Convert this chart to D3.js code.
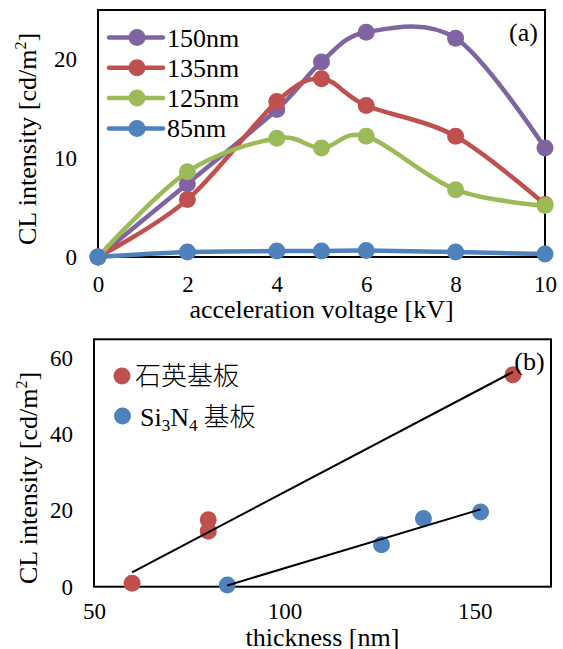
<!DOCTYPE html>
<html><head><meta charset="utf-8">
<script src="https://cdn.jsdelivr.net/npm/d3@7"></script>
<style>
html,body{margin:0;padding:0;background:#fff;}
svg{display:block;font-family:"Liberation Serif","Times New Roman",serif;}
</style></head>
<body>
<svg id="c" width="563" height="649"></svg>
<script>
// ---- Data: panel (a) ----
const voltages = [0, 2, 4, 5, 6, 8, 10];
const seriesNames = ["150nm", "135nm", "125nm", "85nm"];
const values150 = [0, 7.4, 14.9, 19.7, 22.7, 22.1, 11.0];
const values135 = [0, 5.8, 15.7, 18.0, 15.3, 12.2, 5.3];
const values125 = [0, 8.6, 12.0, 11.0, 12.2, 6.8, 5.2];
const values85  = [0, 0.5, 0.6, 0.6, 0.65, 0.5, 0.3];
const xTicksA = [0, 2, 4, 6, 8, 10];
const yTicksA = [0, 10, 20];

// ---- Data: panel (b) ----
const legendB = ["石英基板", "Si3N4 基板"];
const quartzThickness = [60, 80, 80, 160];
const quartzCL = [0.9, 17.6, 14.6, 55.7];
const si3n4Thickness = [85, 125.5, 136.5, 151.5];
const si3n4CL = [0.45, 11.0, 17.9, 19.6];
const xTicksB = [50, 100, 150];
const yTicksB = [0, 20, 40, 60];

const colors = ["#8064A2", "#C0504D", "#9BBB59", "#4F81BD"];
const svg = d3.select("#c");

// ================= Panel (a) =================
const ax = d3.scaleLinear().domain([0, 10]).range([98, 545]);
const ay = d3.scaleLinear().domain([0, 25]).range([257, 9.5]);
const gA = svg.append("g");

gA.append("rect").attr("x", ax(0)).attr("y", 10).attr("width", ax(10) - ax(0)).attr("height", ay(0) - 10)
  .attr("fill", "none").attr("stroke", "#000").attr("stroke-width", 2);

const xAxA = gA.append("g").attr("transform", `translate(0,${ay(0)})`)
  .call(d3.axisBottom(ax).tickValues(xTicksA).tickSize(0).tickPadding(19));
const yAxA = gA.append("g").attr("transform", `translate(${ax(0)},0)`)
  .call(d3.axisLeft(ay).tickValues(yTicksA).tickSize(0).tickPadding(21));
[xAxA, yAxA].forEach(g => {
  g.select(".domain").remove();
  g.selectAll("text").attr("font-family", "Liberation Serif").attr("font-size", 23).attr("fill", "#000");
});

const allA = [values150, values135, values125, values85];
const line = d3.line().x(d => ax(d[0])).y(d => ay(d[1])).curve(d3.curveCardinal.tension(0));
allA.forEach((vals, i) => {
  const pts = voltages.map((v, j) => [v, vals[j]]);
  gA.append("path").attr("d", line(pts)).attr("fill", "none").attr("stroke", colors[i])
    .attr("stroke-width", 4.5).attr("stroke-linejoin", "round").attr("stroke-linecap", "round");
  gA.selectAll(null).data(pts).enter().append("circle")
    .attr("cx", d => ax(d[0])).attr("cy", d => ay(d[1])).attr("r", 8.5).attr("fill", colors[i]);
});

// legend (a)
seriesNames.forEach((n, i) => {
  const y = 37.5 + i * 30.3;
  gA.append("line").attr("x1", 109).attr("x2", 163).attr("y1", y).attr("y2", y)
    .attr("stroke", colors[i]).attr("stroke-width", 4.5).attr("stroke-linecap", "round");
  gA.append("circle").attr("cx", 137).attr("cy", y).attr("r", 8.5).attr("fill", colors[i]);
  gA.append("text").attr("x", 167).attr("y", y + 9).attr("font-size", 26).text(n);
});
gA.append("text").attr("x", 523.5).attr("y", 41).attr("text-anchor", "middle").attr("font-size", 26).text("(a)");

gA.append("text").attr("x", (ax(0) + ax(10)) / 2).attr("y", 318).attr("text-anchor", "middle")
  .attr("font-size", 26).text("acceleration voltage [kV]");
const ytA = gA.append("text").attr("transform", "translate(36,139) rotate(-90)").attr("text-anchor", "middle").attr("font-size", 26);
ytA.append("tspan").text("CL intensity [cd/m");
ytA.append("tspan").attr("dy", -10).attr("font-size", 16).text("2");
ytA.append("tspan").attr("dy", 10).text("]");

// ================= Panel (b) =================
const bx = d3.scaleLinear().domain([50, 170]).range([94, 551]);
const by = d3.scaleLinear().domain([0, 65]).range([586.7, 339.3]);
const gB = svg.append("g");

gB.append("rect").attr("x", 94).attr("y", 339.3).attr("width", 551 - 94).attr("height", 586.7 - 339.3)
  .attr("fill", "none").attr("stroke", "#000").attr("stroke-width", 2);

const xAxB = gB.append("g").attr("transform", `translate(0,${by(0)})`)
  .call(d3.axisBottom(bx).tickValues(xTicksB).tickSize(0).tickPadding(16));
const yAxB = gB.append("g").attr("transform", `translate(${bx(50)},0)`)
  .call(d3.axisLeft(by).tickValues(yTicksB).tickSize(0).tickPadding(21));
[xAxB, yAxB].forEach(g => {
  g.select(".domain").remove();
  g.selectAll("text").attr("font-family", "Liberation Serif").attr("font-size", 23).attr("fill", "#000");
});

function fit(xs, ys) {
  const mx = d3.mean(xs), my = d3.mean(ys);
  let sxy = 0, sxx = 0;
  xs.forEach((x, i) => { sxy += (x - mx) * (ys[i] - my); sxx += (x - mx) ** 2; });
  const m = sxy / sxx, b = my - m * mx;
  const x0 = d3.min(xs), x1 = d3.max(xs);
  return [[x0, m * x0 + b], [x1, m * x1 + b]];
}

const setsB = [[quartzThickness, quartzCL, colors[1]], [si3n4Thickness, si3n4CL, colors[3]]];
setsB.forEach(([xs, ys, c]) => {
  gB.selectAll(null).data(xs.map((x, i) => [x, ys[i]])).enter().append("circle")
    .attr("cx", d => bx(d[0])).attr("cy", d => by(d[1])).attr("r", 8.5).attr("fill", c);
});
setsB.forEach(([xs, ys]) => {
  const f = fit(xs, ys);
  gB.append("line").attr("x1", bx(f[0][0])).attr("y1", by(f[0][1])).attr("x2", bx(f[1][0])).attr("y2", by(f[1][1]))
    .attr("stroke", "#000").attr("stroke-width", 2);
});

// legend (b)
gB.append("circle").attr("cx", 122).attr("cy", 376).attr("r", 8.5).attr("fill", colors[1]);
gB.append("text").attr("x", 135).attr("y", 385).attr("font-size", 26)
  .attr("font-family", "Noto Sans CJK JP").attr("font-weight", 300).text(legendB[0]);
gB.append("circle").attr("cx", 122.5).attr("cy", 416).attr("r", 8.5).attr("fill", colors[3]);
const lb = gB.append("text").attr("x", 140).attr("y", 426).attr("font-size", 26);
lb.append("tspan").text("Si");
lb.append("tspan").attr("dy", 5).attr("font-size", 17).text("3");
lb.append("tspan").attr("dy", -5).text("N");
lb.append("tspan").attr("dy", 5).attr("font-size", 17).text("4");
lb.append("tspan").attr("dy", -5).attr("dx", 6).attr("font-family", "Noto Sans CJK JP").attr("font-weight", 300).text("基板");

gB.append("text").attr("x", 529.5).attr("y", 370).attr("text-anchor", "middle").attr("font-size", 26).text("(b)");

gB.append("text").attr("x", (94 + 551) / 2).attr("y", 646).attr("text-anchor", "middle")
  .attr("font-size", 26).text("thickness [nm]");
const ytB = gB.append("text").attr("transform", "translate(37,478) rotate(-90)").attr("text-anchor", "middle").attr("font-size", 26);
ytB.append("tspan").text("CL intensity [cd/m");
ytB.append("tspan").attr("dy", -10).attr("font-size", 16).text("2");
ytB.append("tspan").attr("dy", 10).text("]");
</script>
</body></html>
